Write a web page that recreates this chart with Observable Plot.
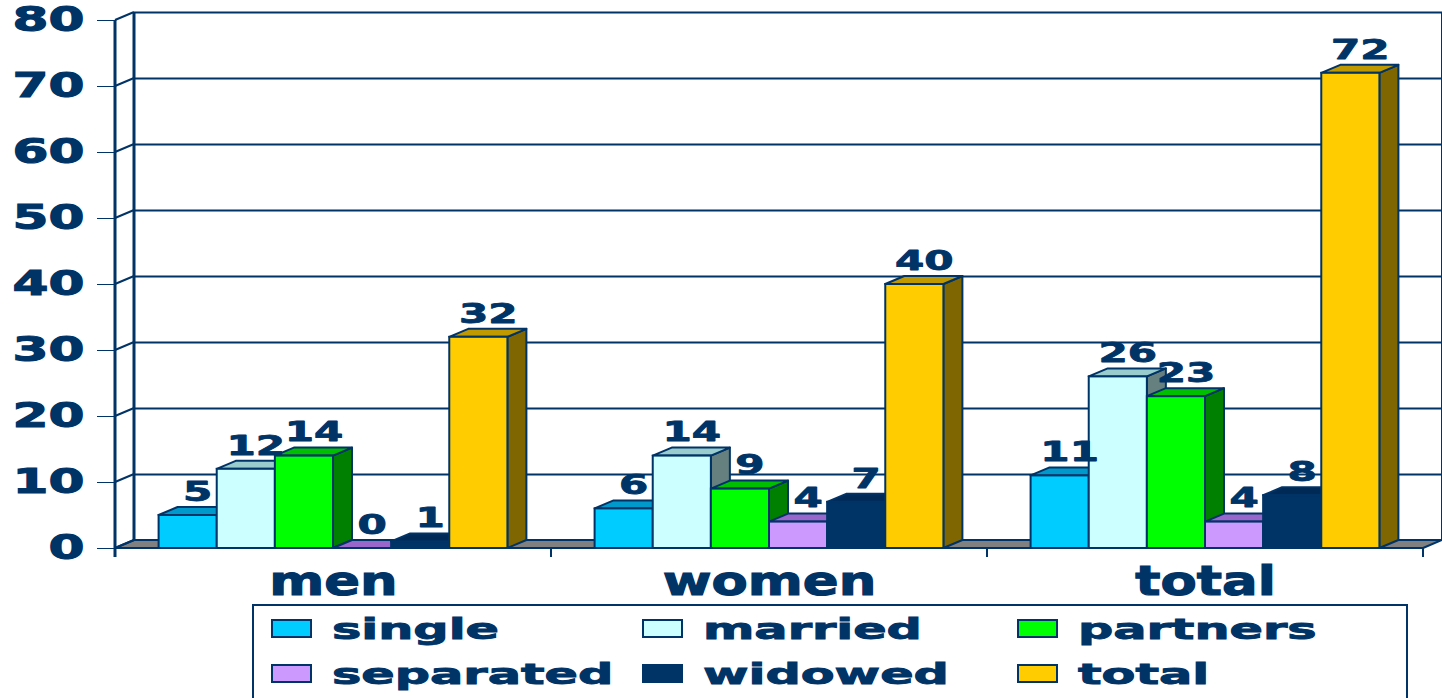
<!DOCTYPE html>
<html>
<head>
<meta charset="utf-8">
<script src="https://cdn.jsdelivr.net/npm/d3@7"></script>
<script src="https://cdn.jsdelivr.net/npm/@observablehq/plot@0.6"></script>
<style>
  html, body { margin: 0; padding: 0; background: #ffffff; overflow: hidden; }
  #chart { position: relative; width: 1442px; height: 698px; font-family: "DejaVu Sans", sans-serif; }
  #chart svg { display: block; }
  .legend { position: absolute; left: 252px; top: 604px; width: 1156px; height: 120px;
            border: 2px solid #003366; box-sizing: border-box; }
  .sw { position: absolute; width: 41px; height: 19px; border: 2px solid #003366; box-sizing: border-box; }
  .lt { position: absolute; font-size: 29px; font-weight: bold; color: #003366; line-height: 1;
        -webkit-text-stroke: 0.9px #003366;
        white-space: nowrap; transform: scaleX(1.7); transform-origin: 0 50%; }
</style>
</head>
<body>
<div id="chart"></div>
<script>
// ---- data ----
const groups = ["men", "women", "total"];
const series = ["single", "married", "partners", "separated", "widowed", "total"];
const single    = [5, 6, 11];
const married   = [12, 14, 26];
const partners  = [14, 9, 23];
const separated = [0, 4, 4];
const widowed   = [1, 7, 8];
const totals    = [32, 40, 72];
const yTicks = [0, 10, 20, 30, 40, 50, 60, 70, 80];

const frontColors = ["#00CCFF", "#CCFFFF", "#00FF00", "#CC99FF", "#003366", "#FFCC00"];
const topColors   = ["#0099CC", "#99CCCC", "#00BF00", "#9966CC", "#002A55", "#C09900"];
const sideColors  = ["#006699", "#668080", "#008000", "#664C80", "#001A33", "#806600"];

const valuesBySeries = [single, married, partners, separated, widowed, totals];
const rows = [];
series.forEach((s, si) => groups.forEach((g, gi) => rows.push({group: g, series: s, si, value: valuesBySeries[si][gi]})));

// ---- layout ----
const W = 1442, H = 604, mL = 115, mR = 19, mT = 20, mB = 56;
const DX = 19, DY = -8;           // oblique depth offset
const INK = "#003366";
const band = (W - mL - mR) / groups.length;
const pad = band * 0.1;
const barW = band * 0.8 / series.length;

function backMark(index, scales) {
  const x = scales.x, y = scales.y;
  const [r0, r1] = x.range();
  const bw = x.bandwidth ? x.bandwidth() : band;
  const y0 = y(0), yTop = y(yTicks[yTicks.length - 1]);
  const g = d3.create("svg:g");
  g.append("path")
    .attr("d", `M${r0},${y0}L${r0 + DX},${y0 + DY}L${r1 + DX},${y0 + DY}L${r1},${y0}Z`)
    .attr("fill", "#808080").attr("stroke", INK).attr("stroke-width", 2).attr("stroke-linejoin", "round");
  [r0, r1].forEach((rx, k) => g.append("line")
    .attr("x1", rx + DX).attr("x2", rx + DX).attr("y1", y0 + DY).attr("y2", yTop + DY)
    .attr("stroke", INK).attr("stroke-width", k === 0 ? 3 : 2));
  yTicks.forEach(v => g.append("line")
    .attr("x1", r0).attr("y1", y(v)).attr("x2", r0 + DX).attr("y2", y(v) + DY)
    .attr("stroke", INK).attr("stroke-width", 2));
  g.append("line").attr("x1", r0).attr("x2", r0).attr("y1", yTop).attr("y2", y0 + 9)
    .attr("stroke", INK).attr("stroke-width", 3);
  for (let k = 1; k <= groups.length; k++) {
    const bx = r0 + k * bw;
    g.append("line").attr("x1", bx).attr("x2", bx).attr("y1", y0).attr("y2", y0 + 9)
      .attr("stroke", INK).attr("stroke-width", 2);
  }
  return g.node();
}

function depthMark(index, scales) {
  const x = scales.x, y = scales.y;
  const bw = x.bandwidth ? x.bandwidth() : band;
  const p = bw * 0.1, w = bw * 0.8 / series.length;
  const g = d3.create("svg:g").attr("stroke", INK).attr("stroke-width", 2).attr("stroke-linejoin", "round");
  groups.forEach(gr => {
    rows.filter(r => r.group === gr).sort((a, b) => a.si - b.si).forEach(r => {
      const x0 = x(r.group) + p + r.si * w, x1 = x0 + w;
      const yt = y(r.value), yb = y(0);
      g.append("path").attr("fill", sideColors[r.si])
        .attr("d", `M${x1},${yt}L${x1 + DX},${yt + DY}L${x1 + DX},${yb + DY}L${x1},${yb}Z`);
      g.append("path").attr("fill", topColors[r.si])
        .attr("d", `M${x0},${yt}L${x0 + DX},${yt + DY}L${x1 + DX},${yt + DY}L${x1},${yt}Z`);
    });
  });
  return g.node();
}

const marks = [
  Plot.ruleY(yTicks.filter(v => v > 0), {dx: DX, dy: DY, stroke: INK, strokeWidth: 2.2}),
  backMark,
  depthMark
];
series.forEach((s, i) => {
  const data = rows.filter(r => r.series === s);
  const left = pad + i * barW;
  marks.push(Plot.barY(data, {
    x: "group", y: "value", fill: frontColors[i], stroke: INK, strokeWidth: 2,
    insetLeft: left, insetRight: band - left - barW
  }));
});
series.forEach((s, i) => {
  const data = rows.filter(r => r.series === s);
  const left = pad + i * barW;
  marks.push(Plot.text(data, {
    x: "group", y: "value", text: d => String(d.value),
    dx: left + barW / 2 - band / 2 + DX / 2, dy: DY - 15,
    fontSize: 26, fontWeight: "bold", fill: INK, stroke: INK, strokeWidth: 0.8
  }));
});

const chart = Plot.plot({
  width: W, height: H,
  marginLeft: mL, marginRight: mR, marginTop: mT, marginBottom: mB,
  style: {fontFamily: "DejaVu Sans", fontWeight: "bold", fontSize: "34px", color: INK, background: "#ffffff", overflow: "visible"},
  x: {domain: groups, padding: 0, label: null, tickSize: 0, tickPadding: 18},
  y: {domain: [0, 80], ticks: yTicks, tickSize: 18, tickPadding: 13, label: null, tickFormat: d => String(d)},
  marks
});

const host = document.getElementById("chart");
host.appendChild(chart);

chart.querySelectorAll('[aria-label^="x-axis"] text').forEach(t => { t.style.fontSize = "40px"; t.setAttribute("font-size", "40"); });
chart.querySelectorAll('[aria-label^="x-axis"] text, [aria-label^="y-axis"] text').forEach(t => {
  t.setAttribute("stroke", INK); t.setAttribute("stroke-width", "1.1");
});
function stretch(sel, f) {
  chart.querySelectorAll(sel).forEach(t => {
    const L = t.getComputedTextLength();
    if (L > 0) { t.setAttribute("textLength", (L * f).toFixed(1)); t.setAttribute("lengthAdjust", "spacingAndGlyphs"); }
  });
}
stretch('[aria-label^="x-axis"] text', 1.32);
stretch('[aria-label^="y-axis"] text', 1.52);
stretch('[aria-label="text"] text', 1.62);

// legend (HTML, below the svg)
const legend = d3.select(host).append("div").attr("class", "legend");
const colX = [17, 388, 763];
const rowSwY = [13, 58];
const rowTxtY = [9, 54];
series.forEach((s, i) => {
  const col = i % 3, row = Math.floor(i / 3);
  legend.append("div").attr("class", "sw")
    .style("left", colX[col] + "px").style("top", rowSwY[row] + "px")
    .style("background", frontColors[i]);
  legend.append("div").attr("class", "lt")
    .style("left", (colX[col] + 61) + "px").style("top", rowTxtY[row] + "px")
    .text(s);
});
</script>
</body>
</html>
